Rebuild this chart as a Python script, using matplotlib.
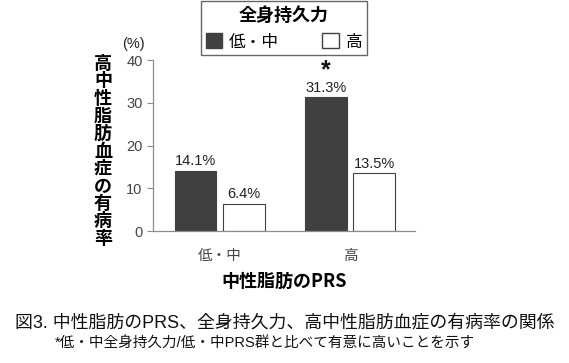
import matplotlib.pyplot as plt
from matplotlib.patches import Patch
import numpy as np

plt.rcParams['font.family'] = ['Liberation Sans', 'Noto Sans CJK JP', 'DejaVu Sans']

groups = ['低・中', '高']
fitness_labels = ['低・中', '高']
low_mid = [14.1, 31.3]
high = [6.4, 13.5]
stars = ['', '*']
yticks = [0, 10, 20, 30, 40]

dark = '#404040'
gray = '#8c8c8c'

fig = plt.figure(figsize=(5.69, 3.63), dpi=100)
ax = fig.add_axes([0.269, 0.3636, 0.4605, 0.471])

x = np.arange(len(groups))
w = 0.32
off = 0.185
b1 = ax.bar(x - off, low_mid, w, color=dark, edgecolor=dark, linewidth=0.8)
b2 = ax.bar(x + off, high, w, color='white', edgecolor=dark, linewidth=0.8)

for bars, vals in [(b1, low_mid), (b2, high)]:
    for r, v in zip(bars, vals):
        ax.text(r.get_x() + r.get_width() / 2, v + 0.6, f'{v}%', ha='center', va='bottom',
                fontsize=10.5, color='#222222')
for r, s in zip(b1, stars):
    if s:
        ax.text(r.get_x() + r.get_width() / 2, r.get_height() + 3.5, s, ha='center', va='bottom',
                fontsize=18, fontweight='bold', color='#111111')

ax.set_xlim(-0.51, 1.5)
ax.set_ylim(0, 40)
ax.set_yticks(yticks)
ax.set_xticks(x)
ax.set_xticklabels(groups, fontsize=10.5, color='#444444')
ax.tick_params(axis='x', length=0, pad=13)
ax.tick_params(axis='y', labelsize=10.5, labelcolor='#444444', color=gray, length=4, width=0.8)
for s in ['top', 'right']:
    ax.spines[s].set_visible(False)
for s in ['left', 'bottom']:
    ax.spines[s].set_color(gray)
    ax.spines[s].set_linewidth(0.9)

ax.text(-0.03, 1.055, '(%)', transform=ax.transAxes, ha='right', va='bottom', fontsize=10.5, color='#222222')

ylabel = '高中性脂肪血症の有病率'
fig.text(103 / 569, 1 - 151 / 363, '\n'.join(ylabel), ha='center', va='center',
         fontsize=13, fontweight='bold', linespacing=0.9, family=['Noto Sans CJK JP'])
fig.text(284 / 569, 1 - 281 / 363, '中性脂肪のPRS', ha='center', va='center',
         fontsize=13, fontweight='bold', family=['Noto Sans CJK JP', 'Liberation Sans'])

handles = [Patch(facecolor=dark, edgecolor=dark), Patch(facecolor='white', edgecolor=dark)]
leg = fig.legend(handles, fitness_labels, title='全身持久力', ncol=2, loc='upper center',
                 bbox_to_anchor=(284 / 569, 1 - 1 / 363), frameon=True, fancybox=False,
                 edgecolor=dark, fontsize=12, handlelength=1.0, handleheight=1.0,
                 columnspacing=2.6, handletextpad=0.4, borderpad=0.3, borderaxespad=0,
                 title_fontproperties={'size': 13, 'weight': 'bold', 'family': 'Noto Sans CJK JP'})
leg.get_frame().set_linewidth(1.0)

fig.text(285 / 569, 1 - 323 / 363, '図3. 中性脂肪のPRS、全身持久力、高中性脂肪血症の有病率の関係',
         ha='center', va='center', fontsize=12.9, color='#111111')
fig.text(265 / 569, 1 - 343 / 363, '*低・中全身持久力/低・中PRS群と比べて有意に高いことを示す',
         ha='center', va='center', fontsize=10.5, color='#111111')

fig.savefig('out.png', dpi=100)
